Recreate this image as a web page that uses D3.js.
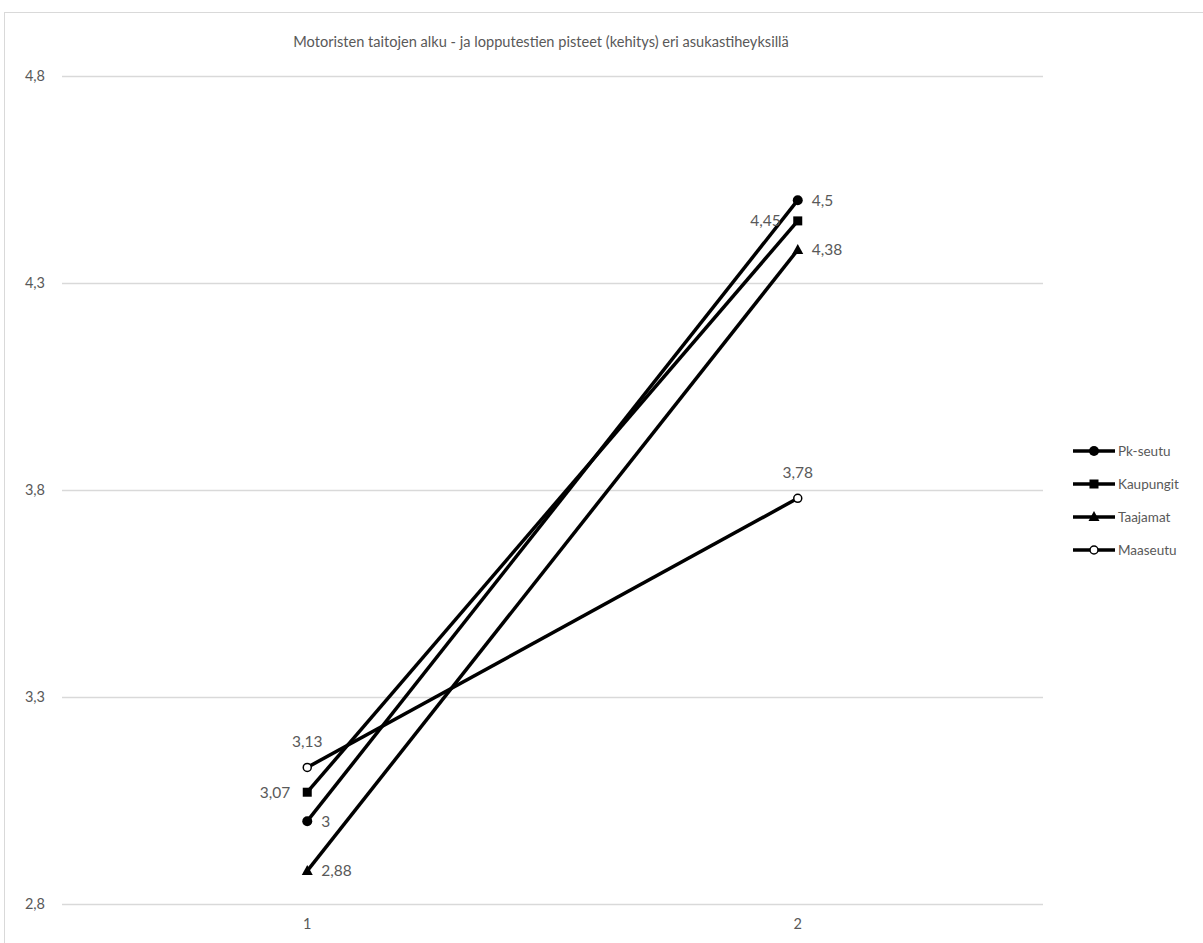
<!DOCTYPE html>
<html><head><meta charset="utf-8">
<script src="https://cdn.jsdelivr.net/npm/d3@7/dist/d3.min.js"></script>
<style>body{margin:0;background:#fff}svg{display:block}text{font-family:Lato,"Open Sans",sans-serif;fill:#595959}</style>
</head><body><svg id="c" width="1203" height="943"></svg>
<script>
const categories = ["1", "2"];
const seriesNames = ["Pk-seutu", "Kaupungit", "Taajamat", "Maaseutu"];
const pkSeutu = [3.00, 4.50];
const kaupungit = [3.07, 4.45];
const taajamat = [2.88, 4.38];
const maaseutu = [3.13, 3.78];
const yTicks = [2.8, 3.3, 3.8, 4.3, 4.8];
const title = "Motoristen taitojen alku - ja lopputestien pisteet (kehitys) eri asukastiheyksillä";

(function () {
const series = [
  {name: seriesNames[0], values: pkSeutu, marker: "circle", pos: ["right", "right"]},
  {name: seriesNames[1], values: kaupungit, marker: "square", pos: ["left", "left"]},
  {name: seriesNames[2], values: taajamat, marker: "triangle", pos: ["right", "right"]},
  {name: seriesNames[3], values: maaseutu, marker: "open", pos: ["above", "above"]}
];

const svg = d3.select("#c");
svg.append("rect").attr("x", 4.5).attr("y", 12.5).attr("width", 1240).attr("height", 960)
  .attr("fill", "#fff").attr("stroke", "#d9d9d9");

const mLeft = 62, mRight = 1043, mTop = 76, mBottom = 904;
const x = d3.scaleBand().domain(categories).range([mLeft, mRight]);
const y = d3.scaleLinear().domain([2.8, 4.8]).range([mBottom, mTop]);
const cx = c => x(c) + x.bandwidth() / 2;

svg.append("text").attr("x", 541).attr("y", 47).attr("text-anchor", "middle")
  .style("font-size", "14.6px").text(title);

const yAxis = d3.axisLeft(y).tickValues(yTicks).tickSize(-(mRight - mLeft))
  .tickFormat(d => d3.format(".1f")(d).replace(".", ","));
const gy = svg.append("g").attr("transform", `translate(${mLeft},0)`).call(yAxis);
gy.select(".domain").remove();
gy.selectAll(".tick line").attr("stroke", "#d9d9d9").attr("stroke-width", 1.3);
gy.selectAll(".tick text").attr("x", -17).style("font-size", "14.5px").attr("fill", "#595959");

const xAxis = d3.axisBottom(x).tickSize(0).tickPadding(15);
const gx = svg.append("g").attr("transform", `translate(0,${mBottom})`).call(xAxis);
gx.select(".domain").remove();
gx.selectAll(".tick text").style("font-size", "14.5px").attr("fill", "#595959");

function drawMarker(g, type, px, py) {
  if (type === "circle") g.append("circle").attr("cx", px).attr("cy", py).attr("r", 5).attr("fill", "#000");
  else if (type === "square") g.append("rect").attr("x", px - 4.5).attr("y", py - 4.5).attr("width", 9).attr("height", 9).attr("fill", "#000");
  else if (type === "triangle") g.append("path").attr("d", `M${px},${py - 6}L${px + 5.5},${py + 4}L${px - 5.5},${py + 4}Z`).attr("fill", "#000");
  else g.append("circle").attr("cx", px).attr("cy", py).attr("r", 4).attr("fill", "#fff").attr("stroke", "#000").attr("stroke-width", 1.5);
}

const line = d3.line().x((d, i) => cx(categories[i])).y(d => y(d));
const fmt = v => String(+v.toFixed(2)).replace(".", ",");

series.forEach(s => {
  svg.append("path").attr("d", line(s.values)).attr("fill", "none").attr("stroke", "#000").attr("stroke-width", 3.5);
});
series.forEach(s => {
  const g = svg.append("g");
  s.values.forEach((v, i) => {
    const px = cx(categories[i]), py = y(v);
    drawMarker(g, s.marker, px, py);
    const t = g.append("text").style("font-size", "15.5px").text(fmt(v));
    if (s.pos[i] === "right") t.attr("x", px + 14).attr("y", py + 5.5);
    else if (s.pos[i] === "left") t.attr("x", px - 17).attr("y", py + 5.5).attr("text-anchor", "end");
    else t.attr("x", px).attr("y", py - 20).attr("text-anchor", "middle");
  });
});

const lg = svg.append("g");
series.forEach((s, i) => {
  const ly = 451 + i * 33;
  lg.append("line").attr("x1", 1073).attr("x2", 1115).attr("y1", ly).attr("y2", ly).attr("stroke", "#000").attr("stroke-width", 3.5);
  drawMarker(lg, s.marker, 1094, ly);
  lg.append("text").attr("x", 1118).attr("y", ly + 5).style("font-size", "13.5px").text(s.name);
});
})();
</script></body></html>
